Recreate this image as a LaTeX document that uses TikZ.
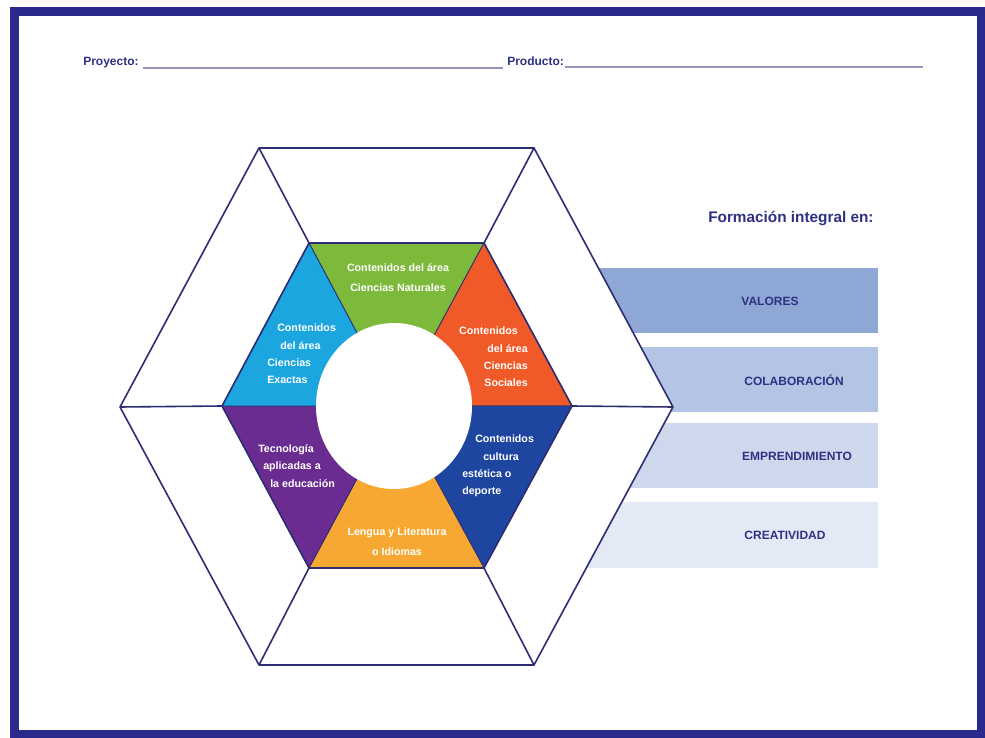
\documentclass[tikz,border=0pt]{standalone}
\usepackage{fontspec}
\setmainfont{Liberation Sans}
\definecolor{framec}{RGB}{42,42,140}
\definecolor{edgec}{RGB}{45,45,115}
\definecolor{inkc}{RGB}{46,49,130}
\definecolor{rulec}{RGB}{150,150,185}
\definecolor{greenc}{RGB}{125,186,60}
\definecolor{orangec}{RGB}{240,90,40}
\definecolor{bluec}{RGB}{30,70,160}
\definecolor{yellowc}{RGB}{247,168,51}
\definecolor{purplec}{RGB}{106,44,145}
\definecolor{cyanc}{RGB}{27,166,224}
\definecolor{box1}{RGB}{143,167,212}
\definecolor{box2}{RGB}{180,196,228}
\definecolor{box3}{RGB}{206,216,237}
\definecolor{box4}{RGB}{228,234,245}
\tikzset{
  hexline/.style={draw=edgec, line width=1.2pt, line join=round},
  segment/.style={draw=edgec, line width=0.6pt, line join=round},
  segtext/.style={text=white, align=center, inner sep=0pt,
    font=\fontsize{8}{13}\selectfont\bfseries},
  boxtext/.style={text=inkc, inner sep=0pt, font=\fontsize{9}{11}\selectfont\bfseries},
  headtext/.style={text=inkc, inner sep=0pt, font=\fontsize{9}{11}\selectfont\bfseries},
  blankline/.style={draw=rulec, line width=0.8pt}
}
\begin{document}
\begin{tikzpicture}[x=0.75pt,y=-0.75pt]
\useasboundingbox (0,0) rectangle (985,738);
\fill[white] (0,0) rectangle (985,738);
% page frame
\draw[framec, line width=6.75pt] (14,12) rectangle (981,734);

% header fields
\node[headtext, anchor=base west] (proy) at (83,66) {Proyecto:};
\coordinate (p1) at (143,68); \coordinate (p2) at (503,68);
\draw[blankline] (p1) -- (p2);
\node[headtext, anchor=base west] (prod) at (507,66) {Producto:};
\coordinate (q1) at (565,67); \coordinate (q2) at (923,67);
\draw[blankline] (q1) -- (q2);

% title of the side list
\node[text=inkc, inner sep=0pt, anchor=base west,
  font=\fontsize{11.5}{13}\selectfont\bfseries] (title) at (708,223) {Formación integral en:};

% side bars (partly hidden behind the hexagon)
\fill[box1] (585,268) rectangle (878,333);
\fill[box2] (585,347) rectangle (878,412);
\fill[box3] (585,423) rectangle (878,488);
\fill[box4] (585,502) rectangle (878,568);
\node[boxtext] (valores) at (770,301) {VALORES};
\node[boxtext] (colab) at (794,380) {COLABORACIÓN};
\node[boxtext] (empr) at (797,456) {EMPRENDIMIENTO};
\node[boxtext] (creat) at (785,535) {CREATIVIDAD};

% hexagon corners
\coordinate (O1) at (259,148); \coordinate (O2) at (534,148);
\coordinate (O3) at (673,407); \coordinate (O4) at (534,665);
\coordinate (O5) at (259,665); \coordinate (O6) at (120,407);
\coordinate (I1) at (309,243); \coordinate (I2) at (484,243);
\coordinate (I3) at (572,406); \coordinate (I4) at (484,568);
\coordinate (I5) at (309,568); \coordinate (I6) at (222,406);
\coordinate (C) at (396,406);

% outer hexagon
\fill[white] (O1) -- (O2) -- (O3) -- (O4) -- (O5) -- (O6) -- cycle;

% coloured sectors
\filldraw[segment, fill=greenc]  (I1) -- (I2) -- (C) -- cycle;
\filldraw[segment, fill=orangec] (I2) -- (I3) -- (C) -- cycle;
\filldraw[segment, fill=bluec]   (I3) -- (I4) -- (C) -- cycle;
\filldraw[segment, fill=yellowc] (I4) -- (I5) -- (C) -- cycle;
\filldraw[segment, fill=purplec] (I5) -- (I6) -- (C) -- cycle;
\filldraw[segment, fill=cyanc]   (I6) -- (I1) -- (C) -- cycle;

% central hole
\fill[white] (394,406) ellipse [x radius=78, y radius=83];

% outlines and spokes
\draw[hexline] (O1) -- (O2) -- (O3) -- (O4) -- (O5) -- (O6) -- cycle;
\draw[hexline] (I1) -- (I2) -- (I3) -- (I4) -- (I5) -- (I6) -- cycle;
\draw[hexline] (O1) -- (I1);
\draw[hexline] (O2) -- (I2);
\draw[hexline] (O3) -- (I3);
\draw[hexline] (O4) -- (I4);
\draw[hexline] (O5) -- (I5);
\draw[hexline] (O6) -- (I6);

% sector labels
\node[segtext, font=\fontsize{8}{15}\selectfont\bfseries] (nat) at (398,278)
  {Contenidos del área\\Ciencias Naturales};
\node[segtext, align=right, anchor=east] (soc) at (528,357)
  {Contenidos\hspace*{7.5pt}\\del área\hspace*{8.25pt}\\Ciencias\hspace*{6pt}\\Sociales};
\node[segtext, align=left, anchor=west] (exa) at (267,354)
  {\hspace*{7.5pt}Contenidos\\\hspace*{9.75pt}del área\\Ciencias\\Exactas};
\node[segtext, align=left, anchor=west] (tec) at (258,466)
  {Tecnología\\\hspace*{3.75pt}aplicadas a\\\hspace*{9pt}la educación};
\node[segtext, align=left, anchor=west] (cul) at (462,466)
  {\hspace*{9.75pt}Contenidos\\\hspace*{15.75pt}cultura\\estética o\\deporte};
\node[segtext, font=\fontsize{8}{15}\selectfont\bfseries] (len) at (397,542)
  {Lengua y Literatura\\o Idiomas};
\end{tikzpicture}
\end{document}
